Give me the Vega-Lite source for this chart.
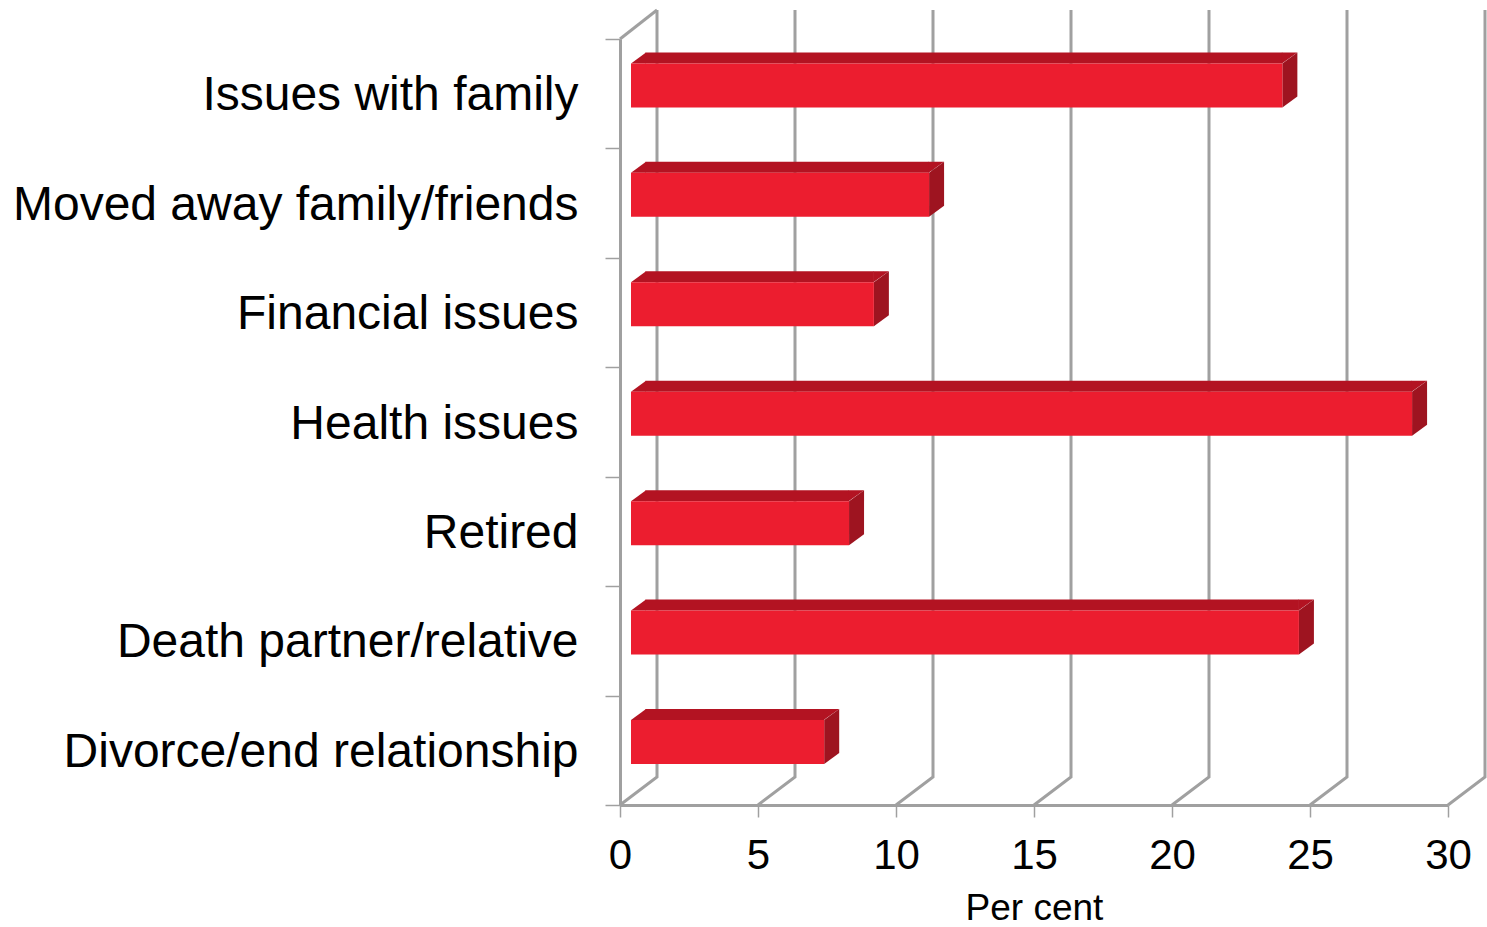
{
  "$schema": "https://vega.github.io/schema/vega-lite/v6.json",
  "width": 828,
  "height": 766,
  "autosize": {"type": "none"},
  "padding": {"left": 620, "top": 39, "right": 39, "bottom": 122},
  "background": "white",
  "config": {
    "view": {"stroke": null},
    "font": "Liberation Sans",
    "axis": {"labelFont": "Liberation Sans", "titleFont": "Liberation Sans", "labelColor": "#000000", "titleColor": "#000000"}
  },
  "datasets": {
    "reasons": [
      {"reason": "Issues with family", "percent": 23.6},
      {"reason": "Moved away family/friends", "percent": 10.8},
      {"reason": "Financial issues", "percent": 8.8},
      {"reason": "Health issues", "percent": 28.3},
      {"reason": "Retired", "percent": 7.9},
      {"reason": "Death partner/relative", "percent": 24.2},
      {"reason": "Divorce/end relationship", "percent": 7.0}
    ],
    "gridTicks": [{"tick": 0}, {"tick": 5}, {"tick": 10}, {"tick": 15}, {"tick": 20}, {"tick": 25}, {"tick": 30}]
  },
  "layer": [
    {
      "description": "Back wall and floor lines of the 3D box, one per x tick",
      "data": {"name": "gridTicks"},
      "mark": {"type": "point", "shape": "M0,54.7L37,26.7L37,-740.3", "size": 4, "filled": false, "stroke": "#a0a0a0", "strokeWidth": 3, "opacity": 1},
      "encoding": {
        "x": {
          "field": "tick", "type": "quantitative",
          "scale": {"domain": [0, 30], "nice": false},
          "axis": {
            "values": [0, 5, 10, 15, 20, 25, 30], "grid": false, "title": "Per cent", "labelFlush": false,
            "domainColor": "#a0a0a0", "domainWidth": 3, "tickColor": "#a0a0a0", "tickWidth": 1.5, "tickSize": 12,
            "labelFontSize": 42, "labelPadding": 18, "titleFontSize": 37, "titleFontWeight": "normal", "titlePadding": 14
          }
        },
        "y": {
          "datum": "Divorce/end relationship", "type": "nominal",
          "scale": {"domain": ["Issues with family", "Moved away family/friends", "Financial issues", "Health issues", "Retired", "Death partner/relative", "Divorce/end relationship"], "paddingInner": 0, "paddingOuter": 0},
          "axis": {
            "title": null, "grid": false, "tickBand": "extent",
            "domainColor": "#a0a0a0", "domainWidth": 3, "tickColor": "#a0a0a0", "tickWidth": 1.5, "tickSize": 15,
            "labelFontSize": 48, "labelPadding": 27, "labelLimit": 620, "labelOffset": 2
          }
        }
      }
    },
    {
      "description": "Slanted top edge of the left wall",
      "data": {"name": "gridTicks"},
      "transform": [{"filter": "datum.tick === 0"}],
      "mark": {"type": "point", "shape": "M0,-711.3L37,-740.3", "size": 4, "filled": false, "stroke": "#a0a0a0", "strokeWidth": 3, "opacity": 1},
      "encoding": {
        "x": {"field": "tick", "type": "quantitative"},
        "y": {"datum": "Divorce/end relationship", "type": "nominal"}
      }
    },
    {
      "description": "Top face of each bar, straight part",
      "data": {"name": "reasons"},
      "mark": {"type": "bar", "size": 11, "color": "#b31322", "yOffset": -35.8, "xOffset": 11, "x2Offset": 25.5},
      "encoding": {
        "y": {"field": "reason", "type": "nominal"},
        "x": {"field": "percent", "type": "quantitative", "stack": null},
        "x2": {"datum": 0}
      }
    },
    {
      "description": "Top face of each bar, slanted left end",
      "data": {"name": "reasons"},
      "mark": {"type": "point", "shape": "M11,-30.3L26,-41.3L26,-30.3Z", "size": 4, "filled": true, "fill": "#b31322", "strokeWidth": 0, "opacity": 1},
      "encoding": {
        "y": {"field": "reason", "type": "nominal"},
        "x": {"datum": 0}
      }
    },
    {
      "description": "Top face of each bar, slanted right end",
      "data": {"name": "reasons"},
      "mark": {"type": "point", "shape": "M10.5,-30.3L26,-41.3L10.5,-41.3Z", "size": 4, "filled": true, "fill": "#b31322", "strokeWidth": 0, "opacity": 1},
      "encoding": {
        "y": {"field": "reason", "type": "nominal"},
        "x": {"field": "percent", "type": "quantitative"}
      }
    },
    {
      "description": "Shaded right side of each bar",
      "data": {"name": "reasons"},
      "mark": {"type": "point", "shape": "M11,-30.3L26,-41.3L26,2.7L11,13.7Z", "size": 4, "filled": true, "fill": "#9e1420", "strokeWidth": 0, "opacity": 1},
      "encoding": {
        "y": {"field": "reason", "type": "nominal"},
        "x": {"field": "percent", "type": "quantitative"}
      }
    },
    {
      "description": "Front face of each bar",
      "data": {"name": "reasons"},
      "mark": {"type": "bar", "size": 44, "color": "#ec1d2f", "yOffset": -8.3, "xOffset": 11, "x2Offset": 11},
      "encoding": {
        "y": {"field": "reason", "type": "nominal"},
        "x": {"field": "percent", "type": "quantitative", "stack": null},
        "x2": {"datum": 0}
      }
    }
  ]
}
